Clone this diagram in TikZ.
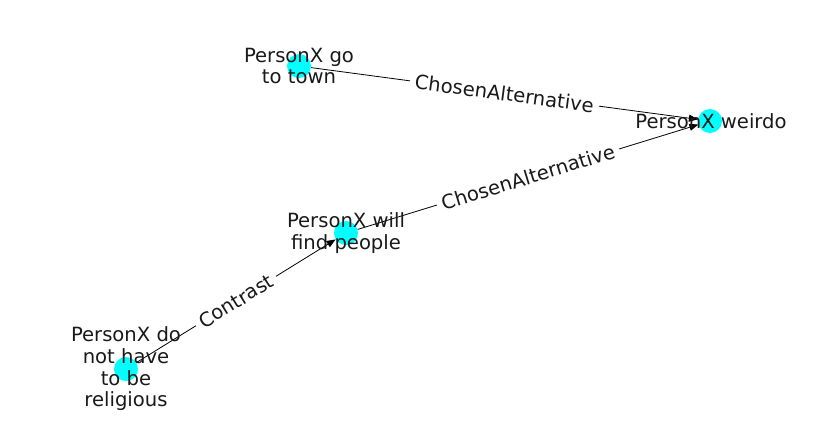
\documentclass[tikz,border=0pt]{standalone}
\usepackage{fontspec}
\setmainfont{DejaVu Sans}
\usetikzlibrary{arrows.meta}
\definecolor{nodecyan}{RGB}{0,255,255}
\definecolor{txt}{RGB}{25,25,25}
\begin{document}
\begin{tikzpicture}[x=1pt,y=-1pt,
  dot/.style={circle,fill=nodecyan,draw=none,minimum size=24pt,inner sep=0pt},
  lbl/.style={align=center,inner sep=0pt,font=\fontsize{19.6}{21.7}\selectfont,text=txt},
  elab/.style={fill=white,inner xsep=5pt,inner ysep=3pt,rounded corners=2pt,font=\fontsize{19.6}{21.7}\selectfont,text=txt},
  edge/.style={draw=black,line width=0.8pt,-{Triangle[length=9pt,width=7pt]}}]
\useasboundingbox (0,0) rectangle (837,434);
\node[dot] (t) at (299,66) {};
\node[dot] (w) at (710,121) {};
\node[dot] (f) at (346,233) {};
\node[dot] (r) at (126,369) {};
\draw[edge] (t) -- (w) node[midway,sloped,elab] {ChosenAlternative};
\draw[edge] (f) -- (w) node[midway,sloped,elab] {ChosenAlternative};
\draw[edge] (r) -- (f) node[midway,sloped,elab] {Contrast};
\node[lbl] (tl) at (299,66) {PersonX go\\to town};
\node[lbl] (wl) at (711,121) {PersonX weirdo};
\node[lbl] (fl) at (346,233) {PersonX will\\find people};
\node[lbl] (rl) at (126,369) {PersonX do\\not have\\to be\\religious};
\end{tikzpicture}
\end{document}
